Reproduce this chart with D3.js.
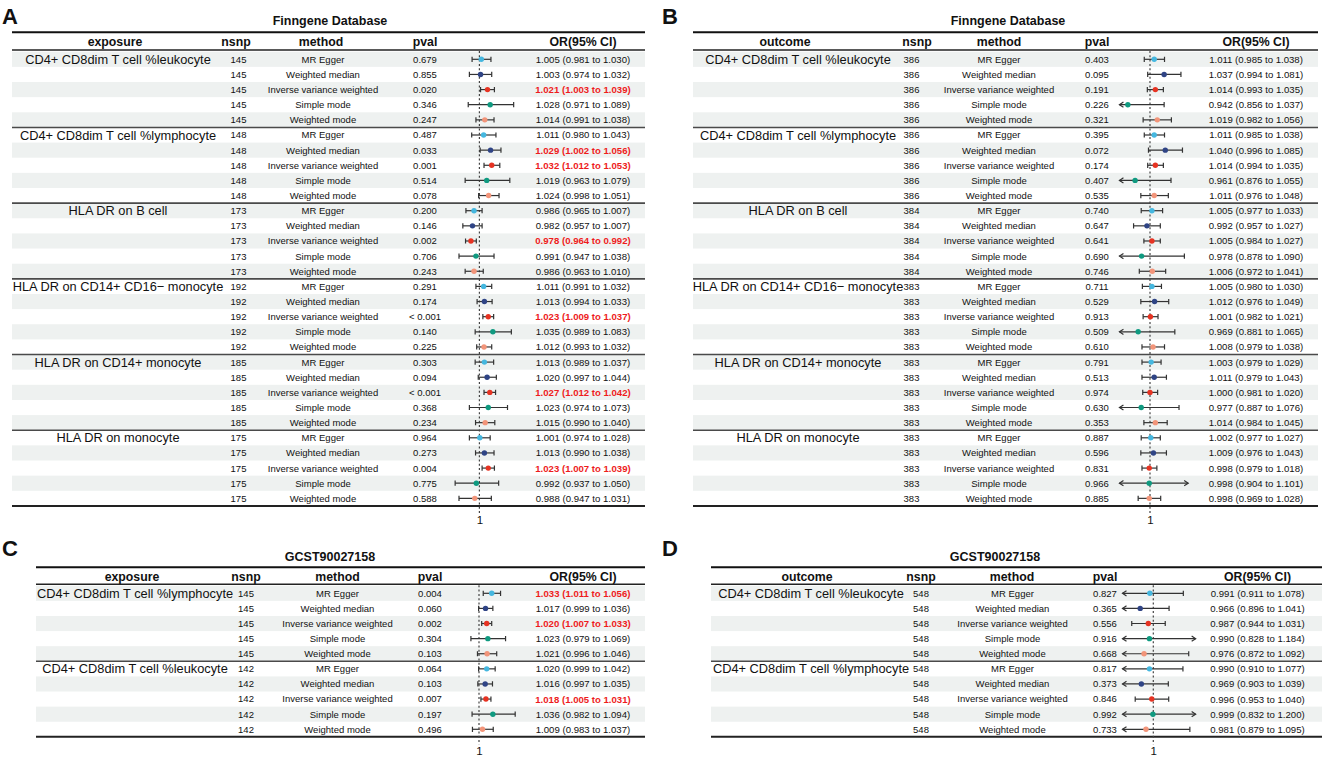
<!DOCTYPE html>
<html><head><meta charset="utf-8">
<script src="https://cdn.jsdelivr.net/npm/d3@7"></script>
<style>
body{margin:0;background:#fff}
text{font-family:"Liberation Sans",Arial,Helvetica,sans-serif;fill:#111}
</style>
</head><body>
<svg id="c" width="1325" height="760"></svg>
<script>
// ---------------- DATA ----------------
const methods = ["MR Egger","Weighted median","Inverse variance weighted","Simple mode","Weighted mode"];
const methodColors = ["#45B7DF","#2F4485","#E63322","#0F9A80","#F2957A"];

// Panel A : Finngene Database, exposure
const aGroups = ["CD4+ CD8dim T cell %leukocyte","CD4+ CD8dim T cell %lymphocyte","HLA DR on B cell","HLA DR on CD14+ CD16\u2212 monocyte","HLA DR on CD14+ monocyte","HLA DR on monocyte"];
const aNsnp = [145,148,173,192,185,175];
const aPval = ["0.679","0.855","0.020","0.346","0.247",
               "0.487","0.033","0.001","0.514","0.078",
               "0.200","0.146","0.002","0.706","0.243",
               "0.291","0.174","< 0.001","0.140","0.225",
               "0.303","0.094","< 0.001","0.368","0.234",
               "0.964","0.273","0.004","0.775","0.588"];
const aOR = [1.005,1.003,1.021,1.028,1.014, 1.011,1.029,1.032,1.019,1.024, 0.986,0.982,0.978,0.991,0.986,
             1.011,1.013,1.023,1.035,1.012, 1.013,1.020,1.027,1.023,1.015, 1.001,1.013,1.023,0.992,0.988];
const aLo = [0.981,0.974,1.003,0.971,0.991, 0.980,1.002,1.012,0.963,0.998, 0.965,0.957,0.964,0.947,0.963,
             0.991,0.994,1.009,0.989,0.993, 0.989,0.997,1.012,0.974,0.990, 0.974,0.990,1.007,0.937,0.947];
const aHi = [1.030,1.032,1.039,1.089,1.038, 1.043,1.056,1.053,1.079,1.051, 1.007,1.007,0.992,1.038,1.010,
             1.032,1.033,1.037,1.083,1.032, 1.037,1.044,1.042,1.073,1.040, 1.028,1.038,1.039,1.050,1.031];

// Panel B : Finngene Database, outcome
const bGroups = aGroups;
const bNsnp = [386,386,384,383,383,383];
const bPval = ["0.403","0.095","0.191","0.226","0.321",
               "0.395","0.072","0.174","0.407","0.535",
               "0.740","0.647","0.641","0.690","0.746",
               "0.711","0.529","0.913","0.509","0.610",
               "0.791","0.513","0.974","0.630","0.353",
               "0.887","0.596","0.831","0.966","0.885"];
const bOR = [1.011,1.037,1.014,0.942,1.019, 1.011,1.040,1.014,0.961,1.011, 1.005,0.992,1.005,0.978,1.006,
             1.005,1.012,1.001,0.969,1.008, 1.003,1.011,1.000,0.977,1.014, 1.002,1.009,0.998,0.998,0.998];
const bLo = [0.985,0.994,0.993,0.856,0.982, 0.985,0.996,0.994,0.876,0.976, 0.977,0.957,0.984,0.878,0.972,
             0.980,0.976,0.982,0.881,0.979, 0.979,0.979,0.981,0.887,0.984, 0.977,0.976,0.979,0.904,0.969];
const bHi = [1.038,1.081,1.035,1.037,1.056, 1.038,1.085,1.035,1.055,1.048, 1.033,1.027,1.027,1.090,1.041,
             1.030,1.049,1.021,1.065,1.038, 1.029,1.043,1.020,1.076,1.045, 1.027,1.043,1.018,1.101,1.028];

// Panel C : GCST90027158, exposure
const cGroups = ["CD4+ CD8dim T cell %lymphocyte","CD4+ CD8dim T cell %leukocyte"];
const cNsnp = [145,142];
const cPval = ["0.004","0.060","0.002","0.304","0.103", "0.064","0.103","0.007","0.197","0.496"];
const cOR = [1.033,1.017,1.020,1.023,1.021, 1.020,1.016,1.018,1.036,1.009];
const cLo = [1.011,0.999,1.007,0.979,0.996, 0.999,0.997,1.005,0.982,0.983];
const cHi = [1.056,1.036,1.033,1.069,1.046, 1.042,1.035,1.031,1.094,1.037];

// Panel D : GCST90027158, outcome
const dGroups = ["CD4+ CD8dim T cell %leukocyte","CD4+ CD8dim T cell %lymphocyte"];
const dNsnp = [548,548];
const dPval = ["0.827","0.365","0.556","0.916","0.668", "0.817","0.373","0.846","0.992","0.733"];
const dOR = [0.991,0.966,0.987,0.990,0.976, 0.990,0.969,0.996,0.999,0.981];
const dLo = [0.911,0.896,0.944,0.828,0.872, 0.910,0.903,0.953,0.832,0.879];
const dHi = [1.078,1.041,1.031,1.184,1.092, 1.077,1.039,1.040,1.200,1.095];

const xTicks = [1];

// ---------------- LAYOUT ----------------
const layouts = [
  {letter:"A", lx:2, ly:24, title:"Finngene Database", tx:330, ty:25, x0:12, x1:645,
   top:32.3, hline:50, row0:59.3, rowH:15.14, head:"exposure",
   c:{labelH:115,label:118,nsnpH:236,nsnp:238.5,methodH:321,method:323,pval:425,or:583},
   ref:479.4, ppu:385, domain:[0.92,1.10],
   data:{groups:aGroups,nsnp:aNsnp,pval:aPval,or:aOR,lo:aLo,hi:aHi}},
  {letter:"B", lx:662, ly:24, title:"Finngene Database", tx:1008, ty:25, x0:693, x1:1318,
   top:32.3, hline:50, row0:59.3, rowH:15.14, head:"outcome",
   c:{labelH:785,label:798,nsnpH:917,nsnp:911.5,methodH:999,method:999,pval:1097,or:1256},
   ref:1150, ppu:382, domain:[0.92,1.10],
   data:{groups:bGroups,nsnp:bNsnp,pval:bPval,or:bOR,lo:bLo,hi:bHi}},
  {letter:"C", lx:2, ly:556, title:"GCST90027158", tx:330, ty:561, x0:36, x1:645,
   top:567.3, hline:584.3, row0:593.3, rowH:15.11, head:"exposure",
   c:{labelH:132,label:135,nsnpH:246,nsnp:246,methodH:337.5,method:337.5,pval:430,or:583},
   ref:479, ppu:385, domain:[0.92,1.10],
   data:{groups:cGroups,nsnp:cNsnp,pval:cPval,or:cOR,lo:cLo,hi:cHi}},
  {letter:"D", lx:662, ly:556, title:"GCST90027158", tx:995, ty:561, x0:711, x1:1322,
   top:567.3, hline:584.3, row0:593.3, rowH:15.11, head:"outcome",
   c:{labelH:807,label:811,nsnpH:921,nsnp:921,methodH:1012,method:1012.5,pval:1105,or:1257.5},
   ref:1153.3, ppu:385, domain:[0.92,1.11],
   data:{groups:dGroups,nsnp:dNsnp,pval:dPval,or:dOR,lo:dLo,hi:dHi}}
];

const svg = d3.select("#c");
const fmt = d3.format(".3f");

function drawPanel(L){
  const d = L.data;
  const g = svg.append("g");
  const rows = [];
  d.groups.forEach((gr, gi) => methods.forEach((m, mi) => {
    const k = gi*methods.length + mi;
    rows.push({k, gi, mi, group:gr, first:mi===0, nsnp:d.nsnp[gi], method:m,
               pval:d.pval[k], or:d.or[k], lo:d.lo[k], hi:d.hi[k]});
  }));
  const n = rows.length;
  const y = d3.scaleLinear().domain([0, n-1]).range([L.row0, L.row0 + (n-1)*L.rowH]);
  const x = d3.scaleLinear().domain(L.domain)
     .range([L.ref - (1-L.domain[0])*L.ppu, L.ref + (L.domain[1]-1)*L.ppu]);
  const bottom = y(n-1) + L.rowH/2;
  const headY = (L.top + L.hline)/2 + 0.5;

  g.append("text").attr("x",L.lx).attr("y",L.ly).attr("font-size",22).attr("font-weight","bold").text(L.letter);
  g.append("text").attr("x",L.tx).attr("y",L.ty).attr("text-anchor","middle").attr("font-size",12.5).attr("font-weight","bold").text(L.title);

  g.selectAll("rect.bg").data(rows.filter(r => r.k % 2 === 0)).join("rect")
    .attr("x",L.x0).attr("width",L.x1-L.x0)
    .attr("y",r => y(r.k) - L.rowH/2).attr("height",L.rowH)
    .attr("fill","#EEF1F0");

  const hdr = [[L.head,L.c.labelH],["nsnp",L.c.nsnpH],["method",L.c.methodH],["pval",L.c.pval],["OR(95% CI)",L.c.or]];
  g.selectAll("text.h").data(hdr).join("text")
    .attr("x",h=>h[1]).attr("y",headY).attr("dy","0.36em").attr("text-anchor","middle")
    .attr("font-size",12.3).attr("font-weight","bold").text(h=>h[0]);

  const cell = (sel, cls, xv, fs, fn) => g.selectAll("text."+cls).data(sel).join("text")
      .attr("x",xv).attr("y",r=>y(r.k)).attr("dy","0.36em").attr("text-anchor","middle")
      .attr("font-size",fs).text(fn);
  cell(rows.filter(r=>r.first),"lab",L.c.label,12.8,r=>r.group);
  cell(rows,"ns",L.c.nsnp,9.5,r=>r.nsnp);
  cell(rows,"me",L.c.method,9.5,r=>r.method);
  cell(rows,"pv",L.c.pval,9.5,r=>r.pval);
  g.selectAll("text.orv").data(rows).join("text")
    .attr("x",L.c.or).attr("y",r=>y(r.k)).attr("dy","0.36em").attr("text-anchor","middle")
    .attr("font-size",9.6)
    .attr("font-weight",r => (r.lo>1||r.hi<1) ? "bold" : "normal")
    .style("fill",r => (r.lo>1||r.hi<1) ? "#EE1C1C" : "#111")
    .text(r => `${fmt(r.or)} (${fmt(r.lo)} to ${fmt(r.hi)})`);

  g.selectAll("line.sep").data(d.groups.slice(1).map((_,i)=>(i+1)*methods.length)).join("line")
    .attr("x1",L.x0).attr("x2",L.x1)
    .attr("y1",k=>y(k)-L.rowH/2).attr("y2",k=>y(k)-L.rowH/2)
    .attr("stroke","#4a4a4a").attr("stroke-width",1.6);

  g.append("line").attr("x1",L.x0).attr("x2",L.x1).attr("y1",L.top).attr("y2",L.top).attr("stroke","#111").attr("stroke-width",2);
  g.append("line").attr("x1",L.x0).attr("x2",L.x1).attr("y1",L.hline).attr("y2",L.hline).attr("stroke","#222").attr("stroke-width",1.5);
  g.append("line").attr("x1",L.x0).attr("x2",L.x1).attr("y1",bottom).attr("y2",bottom).attr("stroke","#222").attr("stroke-width",2);

  g.append("line").attr("x1",x(1)).attr("x2",x(1)).attr("y1",L.hline+1).attr("y2",bottom+8)
    .attr("stroke","#444").attr("stroke-width",1.2).attr("stroke-dasharray","2,2.3");

  const ax = g.append("g").attr("transform",`translate(0,${bottom+8})`)
    .call(d3.axisBottom(x).tickValues(xTicks).tickSize(0).tickPadding(2).tickFormat(d3.format("d")));
  ax.select(".domain").remove();
  ax.selectAll("text").attr("font-size",11.5).attr("fill","#111").style("font-family",'"Liberation Sans",Arial,sans-serif');

  const [dmin, dmax] = L.domain;
  const ci = g.selectAll("g.ci").data(rows).join("g").attr("class","ci");
  ci.append("line")
    .attr("x1",r=>x(Math.max(r.lo,dmin))).attr("x2",r=>x(Math.min(r.hi,dmax)))
    .attr("y1",r=>y(r.k)).attr("y2",r=>y(r.k))
    .attr("stroke","#333").attr("stroke-width",1.2);
  ci.append("path").attr("fill","none").attr("stroke","#333").attr("stroke-width",1.2)
    .attr("d",r=>{
      const yy = y(r.k); let p = "";
      if (r.lo < dmin){ const xx = x(dmin); p += `M${xx+4},${yy-2.6}L${xx},${yy}L${xx+4},${yy+2.6}`; }
      else { const xx = x(r.lo); p += `M${xx},${yy-2.6}L${xx},${yy+2.6}`; }
      if (r.hi > dmax){ const xx = x(dmax); p += `M${xx-4},${yy-2.6}L${xx},${yy}L${xx-4},${yy+2.6}`; }
      else { const xx = x(r.hi); p += `M${xx},${yy-2.6}L${xx},${yy+2.6}`; }
      return p;
    });
  ci.append("circle").attr("cx",r=>x(r.or)).attr("cy",r=>y(r.k)).attr("r",2.7)
    .attr("fill",r=>methodColors[r.mi]);
}

layouts.forEach(drawPanel);
</script>
</body></html>
